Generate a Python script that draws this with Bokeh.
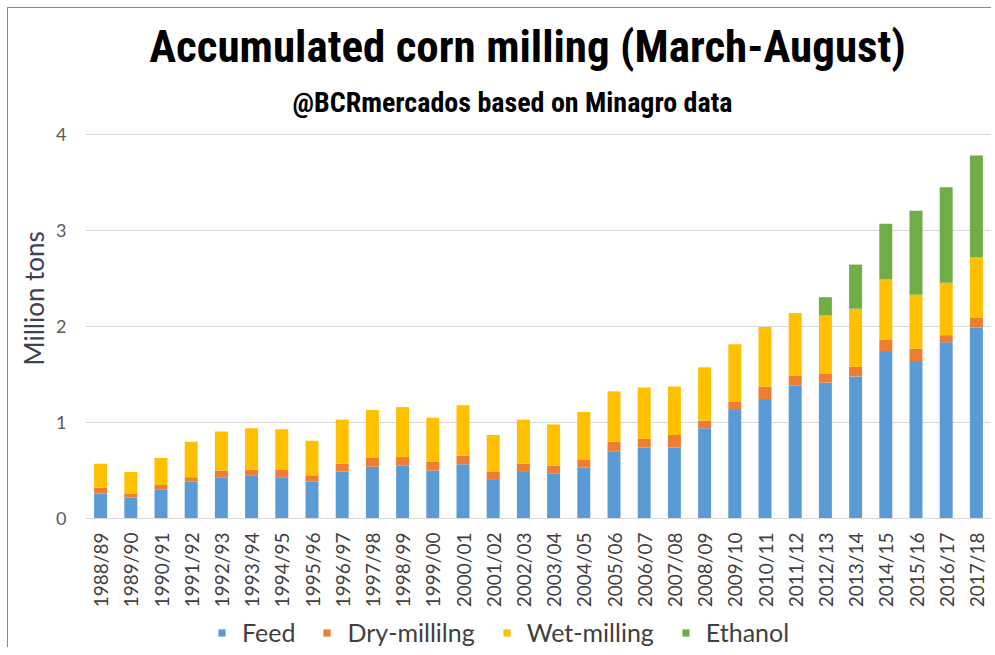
import math
from bokeh.plotting import figure
from bokeh.layouts import column
from bokeh.models import (ColumnDataSource, FactorRange, Range1d, FixedTicker,
                          Legend, LegendItem, Title, Label)
from bokeh.embed import file_html
from bokeh.resources import INLINE

years = ["1988/89", "1989/90", "1990/91", "1991/92", "1992/93", "1993/94",
         "1994/95", "1995/96", "1996/97", "1997/98", "1998/99", "1999/00",
         "2000/01", "2001/02", "2002/03", "2003/04", "2004/05", "2005/06",
         "2006/07", "2007/08", "2008/09", "2009/10", "2010/11", "2011/12",
         "2012/13", "2013/14", "2014/15", "2015/16", "2016/17", "2017/18"]

feed = [0.26, 0.22, 0.30, 0.385, 0.43, 0.45, 0.43, 0.385, 0.49, 0.54,
        0.55, 0.50, 0.565, 0.41, 0.485, 0.47, 0.53, 0.70, 0.74, 0.74,
        0.94, 1.13, 1.245, 1.385, 1.415, 1.48, 1.745, 1.64, 1.835, 1.99]
dry = [0.06, 0.04, 0.05, 0.045, 0.07, 0.06, 0.08, 0.065, 0.08, 0.09,
       0.09, 0.09, 0.09, 0.075, 0.085, 0.08, 0.085, 0.10, 0.09, 0.13,
       0.08, 0.09, 0.13, 0.105, 0.09, 0.10, 0.115, 0.13, 0.075, 0.105]
wet = [0.25, 0.225, 0.28, 0.37, 0.405, 0.43, 0.42, 0.36, 0.46, 0.50,
       0.52, 0.46, 0.525, 0.385, 0.46, 0.43, 0.495, 0.525, 0.535, 0.505,
       0.555, 0.595, 0.62, 0.65, 0.61, 0.605, 0.63, 0.56, 0.545, 0.63]
ethanol = [0, 0, 0, 0, 0, 0, 0, 0, 0, 0,
           0, 0, 0, 0, 0, 0, 0, 0, 0, 0,
           0, 0, 0, 0, 0.19, 0.46, 0.58, 0.875, 0.995, 1.055]

series_names = ["Feed", "Dry-millilng", "Wet-milling", "Ethanol"]
series_cols = ["feed", "dry", "wet", "ethanol"]
colors = ["#5B9BD5", "#ED7D31", "#FFC000", "#70AD47"]
y_ticks = [0, 1, 2, 3, 4]

title_text = "Accumulated corn milling (March-August)"
subtitle_text = "@BCRmercados based on Minagro data"
ylabel_text = "Million tons"

TITLE_FONT = "Roboto Condensed, Roboto"

source = ColumnDataSource(dict(years=years, feed=feed, dry=dry, wet=wet,
                               ethanol=ethanol))

# main chart: the frame reaches the top of the canvas so the titles sit inside it
p = figure(x_range=FactorRange(factors=years, range_padding=0),
           y_range=Range1d(0, 510 / 96),
           width=983, height=604,
           output_backend="svg", toolbar_location=None,
           min_border_left=77, min_border_right=0,
           min_border_top=0, min_border_bottom=94)
p.outline_line_color = None
p.background_fill_color = "white"
p.border_fill_color = "white"

renderers = p.vbar_stack(series_cols, x="years", width=0.43, source=source,
                         fill_color=colors, line_color=None)

p.yaxis.ticker = FixedTicker(ticks=y_ticks)
p.ygrid.ticker = FixedTicker(ticks=y_ticks)
p.ygrid.grid_line_color = "#D9D9D9"
p.xgrid.grid_line_color = None
p.yaxis.axis_line_color = None
p.yaxis.major_tick_line_color = None
p.yaxis.minor_tick_line_color = None
p.yaxis.major_tick_out = 0
p.yaxis.major_label_text_font = "Lato"
p.yaxis.major_label_text_font_size = "18px"
p.yaxis.major_label_text_color = "#595959"
p.yaxis.major_label_standoff = 19

p.xaxis.axis_line_color = "#D9D9D9"
p.xaxis.major_tick_line_color = None
p.xaxis.minor_tick_line_color = None
p.xaxis.major_tick_out = 0
p.xaxis.major_label_orientation = math.pi / 2
p.xaxis.major_label_standoff = 14
p.xaxis.major_label_text_font = "Lato"
p.xaxis.major_label_text_font_size = "19px"
p.xaxis.major_label_text_color = "#404040"

p.add_layout(Label(x=442, y=472, x_units="screen", y_units="screen",
                   text=title_text, text_align="center",
                   text_baseline="alphabetic", text_font=TITLE_FONT,
                   text_font_style="bold", text_font_size="45px",
                   text_color="#000000"))
p.add_layout(Label(x=427, y=416, x_units="screen", y_units="screen",
                   text=subtitle_text, text_align="center",
                   text_baseline="alphabetic", text_font=TITLE_FONT,
                   text_font_style="bold", text_font_size="28px",
                   text_color="#000000"))

p.add_layout(Title(text=ylabel_text, align="left", offset=153,
                   text_font="Lato", text_font_style="normal",
                   text_font_size="26px", text_color="#3F3F55",
                   standoff=8), "left")

# legend strip under the chart; its proxy bars have zero width (nothing drawn)
lf = figure(x_range=FactorRange(factors=years, range_padding=0),
            y_range=Range1d(0, 4),
            width=983, height=35, output_backend="svg",
            toolbar_location=None, x_axis_location=None,
            y_axis_location=None, min_border=0,
            min_border_left=0, min_border_right=0,
            min_border_top=0, min_border_bottom=0)
lf.outline_line_color = None
lf.grid.grid_line_color = None
leg_renderers = lf.vbar_stack(series_cols, x="years", width=0,
                              source=source, fill_color=colors,
                              line_color=None)
legend = Legend(items=[LegendItem(label=n, renderers=[r])
                       for n, r in zip(series_names, leg_renderers)],
                orientation="horizontal", location=(132, 0),
                padding=0, margin=0, spacing=27, label_standoff=16,
                glyph_width=9, glyph_height=9,
                label_text_font="Lato", label_text_font_size="25px",
                label_text_color="#404040",
                border_line_color=None, background_fill_alpha=0)
lf.add_layout(legend)

layout = column(p, lf, spacing=0,
                styles={"margin-left": "7px", "margin-top": "7px",
                        "border-left": "1px solid #8a8a8a",
                        "border-top": "1px solid #8a8a8a"})

open("out.html", "w").write(file_html(layout, INLINE))
